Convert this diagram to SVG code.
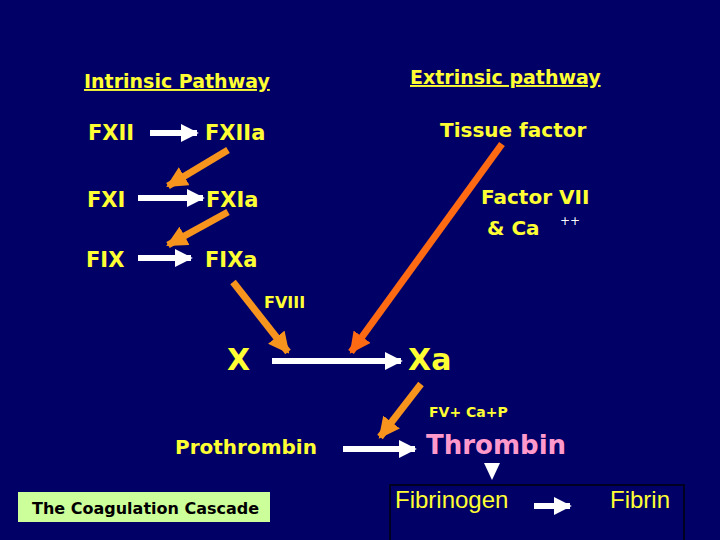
<svg xmlns="http://www.w3.org/2000/svg" width="720" height="540" viewBox="0 0 720 540">
<style>
.t{font-family:"DejaVu Sans",Verdana,sans-serif;font-weight:bold;fill:#ffff33}
.w{stroke:#fff;stroke-width:6;fill:none}
.o{stroke:#f7941d;stroke-width:7;fill:none}
.r{stroke:#ff6a13;stroke-width:7;fill:none}
</style>
<defs>
<marker id="wa" viewBox="0 0 10 10" refX="9" refY="5" markerWidth="3" markerHeight="3.5" orient="auto" markerUnits="strokeWidth"><path d="M0,0L10,5L0,10z" fill="#fff"/></marker>
<marker id="oa" viewBox="0 0 10 10" refX="9" refY="5" markerWidth="3" markerHeight="3" orient="auto" markerUnits="strokeWidth"><path d="M0,0L10,5L0,10z" fill="#f7941d"/></marker>
<marker id="ra" viewBox="0 0 10 10" refX="9" refY="5" markerWidth="3" markerHeight="3" orient="auto" markerUnits="strokeWidth"><path d="M0,0L10,5L0,10z" fill="#ff6a13"/></marker>
</defs>
<rect width="720" height="540" fill="#000066"/>
<g id="connectors">
<line class="w" x1="150" y1="133" x2="197" y2="133" marker-end="url(#wa)"/>
<line class="w" x1="138" y1="198" x2="203" y2="198" marker-end="url(#wa)"/>
<line class="w" x1="138" y1="258" x2="191" y2="258" marker-end="url(#wa)"/>
<line class="o" x1="228" y1="150" x2="168" y2="186" marker-end="url(#oa)"/>
<line class="o" x1="228" y1="212" x2="168" y2="245" marker-end="url(#oa)"/>
<line class="o" x1="233" y1="282" x2="288" y2="352" marker-end="url(#oa)"/>
<line class="r" x1="502" y1="144" x2="351" y2="352" marker-end="url(#ra)"/>
<line class="w" x1="272" y1="361" x2="401" y2="361" marker-end="url(#wa)"/>
<line class="o" x1="421" y1="384" x2="380" y2="437" marker-end="url(#oa)"/>
<line class="w" x1="343" y1="449" x2="415" y2="449" marker-end="url(#wa)"/>
<path d="M484,463L500,463L492,480z" fill="#fff"/>
<line class="w" x1="534" y1="506" x2="570" y2="506" marker-end="url(#wa)"/>
</g>
<g id="intrinsic"><text class="t" x="84" y="88" font-size="19" text-decoration="underline">Intrinsic Pathway</text></g>
<g id="extrinsic"><text class="t" x="410" y="84" font-size="19" text-decoration="underline">Extrinsic pathway</text></g>
<g id="fxii"><text class="t" x="88" y="140" font-size="21">FXII</text></g>
<g id="fxiia"><text class="t" x="205" y="140" font-size="21">FXIIa</text></g>
<g id="fxi"><text class="t" x="87" y="207" font-size="21">FXI</text></g>
<g id="fxia"><text class="t" x="206" y="207" font-size="21">FXIa</text></g>
<g id="fix"><text class="t" x="86" y="267" font-size="21">FIX</text></g>
<g id="fixa"><text class="t" x="205" y="267" font-size="21">FIXa</text></g>
<g id="fviii"><text class="t" x="264" y="308" font-size="16">FVIII</text></g>
<g id="tissue"><text class="t" x="440" y="137" font-size="20">Tissue factor</text></g>
<g id="factor7"><text class="t" x="481" y="204" font-size="20">Factor VII</text><text class="t" x="487" y="235" font-size="20">&amp; Ca</text><text x="560" y="225" font-size="12" fill="#fff" font-family="DejaVu Sans,sans-serif">++</text></g>
<g id="x"><text class="t" x="227" y="370" font-size="30">X</text></g>
<g id="xa"><text class="t" x="408" y="370" font-size="30">Xa</text></g>
<g id="fv"><text class="t" x="429" y="417" font-size="14">FV+ Ca+P</text></g>
<g id="prothrombin"><text class="t" x="175" y="454" font-size="20">Prothrombin</text></g>
<g id="thrombin"><text class="t" x="426" y="454" font-size="26" style="fill:#ff99cc">Thrombin</text></g>
<g id="fibrin-box"><rect x="390" y="485" width="294" height="60" fill="none" stroke="#000022" stroke-width="2"/>
<text x="395" y="508" font-size="24" fill="#ffff33" font-family="Liberation Sans,Arial,sans-serif">Fibrinogen</text>
<text x="610" y="508" font-size="24" fill="#ffff33" font-family="Liberation Sans,Arial,sans-serif">Fibrin</text></g>
<g id="title"><rect x="18" y="492" width="252" height="30" fill="#ccff99"/><text x="32" y="514" font-size="16" font-weight="bold" fill="#000" font-family="DejaVu Sans,Verdana,sans-serif">The Coagulation Cascade</text></g>
</svg>
